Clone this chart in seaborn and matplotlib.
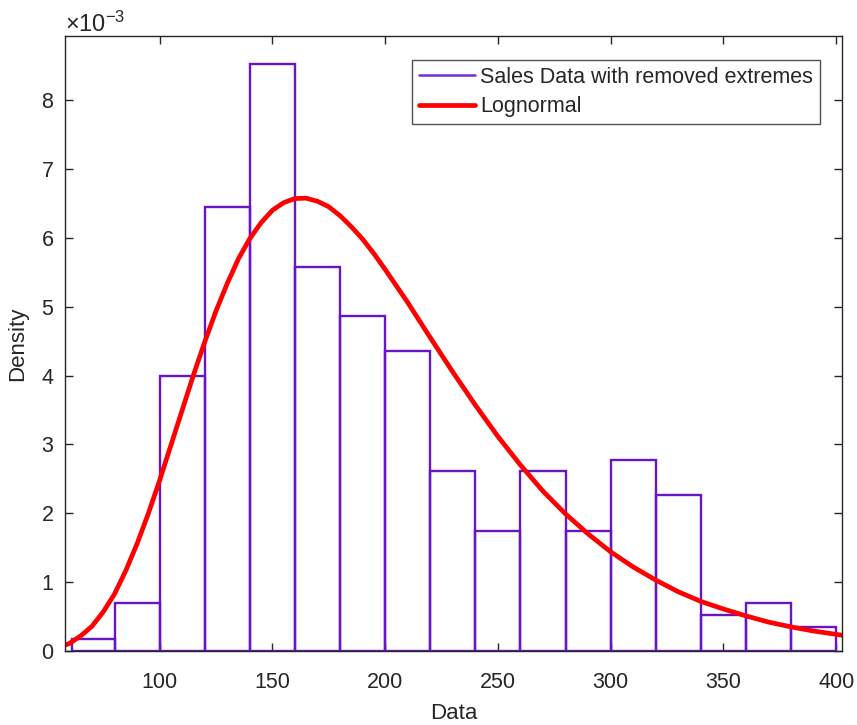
import matplotlib
matplotlib.use("Agg")
import matplotlib.pyplot as plt
import seaborn as sns
from matplotlib.lines import Line2D
from matplotlib.ticker import ScalarFormatter

# Histogram bins (edges) and density heights (x 1e-3)
bin_edges = [61, 80, 100, 120, 140, 160, 180, 200, 220, 240, 260, 280, 300, 320, 340, 360, 380, 400]
density_e3 = [0.17, 0.70, 4.00, 6.45, 8.52, 5.57, 4.87, 4.35, 2.61, 1.74, 2.61, 1.74, 2.78, 2.26, 0.52, 0.70, 0.35]

# Lognormal fit curve (x 1e-3)
curve_x = [58, 60, 65, 70, 75, 80, 85, 90, 95, 100, 105, 110, 115, 120, 125, 130, 135, 140, 145, 150,
           155, 160, 165, 170, 175, 180, 185, 190, 195, 200, 210, 220, 230, 240, 250, 260, 270, 280,
           290, 300, 310, 320, 330, 340, 350, 360, 370, 380, 390, 402.5]
curve_e3 = [0.085, 0.11, 0.22, 0.36, 0.57, 0.83, 1.17, 1.56, 2.00, 2.48, 2.99, 3.50, 4.01, 4.49, 4.94,
            5.34, 5.70, 5.99, 6.22, 6.40, 6.51, 6.57, 6.575, 6.53, 6.45, 6.32, 6.16, 5.98, 5.77, 5.54,
            5.06, 4.55, 4.05, 3.57, 3.115, 2.70, 2.32, 1.99, 1.70, 1.44, 1.22, 1.03, 0.86, 0.72, 0.61,
            0.51, 0.42, 0.35, 0.29, 0.23]

hist_label = "Sales Data with removed extremes"
curve_label = "Lognormal"

purple = "#6a14c8"
red = "#ff0000"
axcol = "#262626"

sns.set_theme(style="white")
plt.rcParams["font.family"] = ["Liberation Sans", "DejaVu Sans"]
plt.rcParams["mathtext.fontset"] = "custom"
plt.rcParams["mathtext.rm"] = "Liberation Sans"
plt.rcParams["mathtext.it"] = "Liberation Sans"

fig = plt.figure(figsize=(8.57, 7.25), dpi=100)
ax = fig.add_axes([65 / 857, 1 - 651 / 725, (842 - 65) / 857, (651 - 36) / 725])

centers = [(bin_edges[i] + bin_edges[i + 1]) / 2 for i in range(len(density_e3))]
weights = [d * 1e-3 for d in density_e3]
sns.histplot(x=centers, weights=weights, bins=bin_edges, stat="count", element="bars",
             fill=False, color=purple, linewidth=1.7, ax=ax)

sns.lineplot(x=curve_x, y=[c * 1e-3 for c in curve_e3], color=red, linewidth=3.4, ax=ax,
             sort=True, estimator=None)

ax.set_xlim(58, 402.6)
ax.set_ylim(0, 8.93e-3)
ax.set_xticks([100, 150, 200, 250, 300, 350, 400])
ax.set_yticks([i * 1e-3 for i in range(9)])
fmt = ScalarFormatter(useMathText=True)
fmt.set_powerlimits((-2, 2))
ax.yaxis.set_major_formatter(fmt)
ax.yaxis.get_offset_text().set_fontsize(17)
ax.yaxis.get_offset_text().set_color(axcol)

for s in ax.spines.values():
    s.set_color(axcol)
    s.set_linewidth(1.0)
    s.set_visible(True)
ax.tick_params(direction="in", length=6, width=1, colors=axcol, labelsize=15.5,
               top=True, right=True, bottom=True, left=True, labelcolor=axcol)
ax.tick_params(axis="x", pad=15)
ax.tick_params(axis="y", pad=8)
ax.set_xlabel("Data", fontsize=16, color=axcol, labelpad=7)
ax.set_ylabel("Density", fontsize=16, color=axcol, labelpad=9)

handles = [Line2D([0], [0], color="#7a2ad8", lw=1.8), Line2D([0], [0], color=red, lw=3.4)]
leg = ax.legend(handles, [hist_label, curve_label], loc="upper right", fontsize=15.5,
                frameon=True, fancybox=False, edgecolor=axcol, handlelength=2.6,
                handletextpad=0.25, borderpad=0.32, labelspacing=0.4, borderaxespad=0,
                bbox_to_anchor=(0.9717, 0.961))
leg.get_frame().set_linewidth(1.0)

fig.savefig("out.png", dpi=100)
